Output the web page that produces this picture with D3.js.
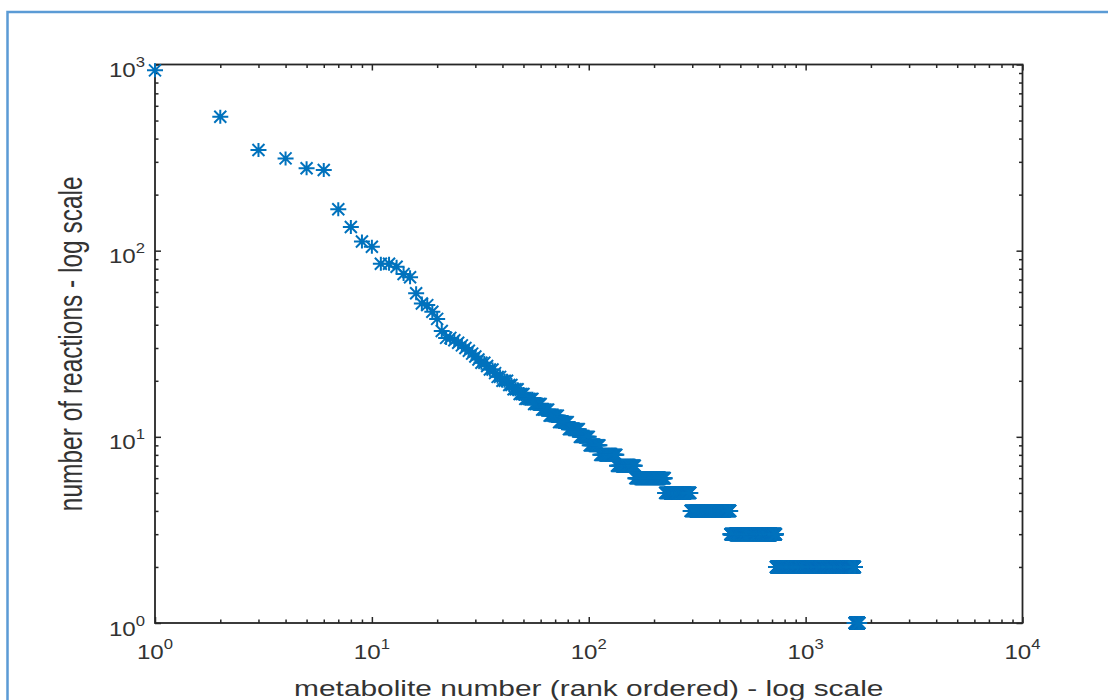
<!DOCTYPE html>
<html>
<head>
<meta charset="utf-8">
<script src="https://cdn.jsdelivr.net/npm/d3@7"></script>
<style>
	body { margin: 0; background: #fff; }
	svg { display: block; font-family: 'Liberation Sans', Arial, sans-serif; }
</style>
</head>
<body>
<svg width="1116" height="700"></svg>
<script>

// reaction counts for the first 23 metabolites, one per rank
const headValues = [ 930, 524, 347, 313, 277, 271, 167, 134, 112, 105, 85, 85, 82, 75, 72, 59, 52, 51, 47, 43, 37, 34, 34 ]

// the rest comes in runs of equal counts: value, first rank, last rank
const runValues = [ 33, 32, 31, 30, 29, 28, 27, 26, 25, 24, 23, 22, 21, 20, 19, 18, 17, 16, 15, 14, 13, 12, 11, 10, 9, 8, 7, 6, 5, 4, 3, 2, 1 ]
const runFirst = [ 24, 25, 26, 27, 28, 29, 30, 31, 32, 34, 35, 37, 38, 40, 43, 45, 48, 51, 56, 61, 66, 73, 81, 91, 101, 113, 135, 164, 225, 295, 450, 730, 1685 ]
const runLast = [ 24, 25, 26, 27, 28, 29, 30, 31, 33, 34, 36, 37, 39, 42, 44, 47, 50, 55, 60, 65, 72, 80, 90, 100, 112, 134, 163, 224, 294, 449, 729, 1684, 1765 ]

const xTicks = [ 1, 10, 100, 1000, 10000 ]
const yTicks = [ 1, 10, 100, 1000 ]

const xLabel = 'metabolite number (rank ordered) - log scale'
const yLabel = 'number of reactions - log scale'

const svg = d3.select( 'svg' ),
	plotL = 155, plotR = 1022.5, plotT = 64.5, plotB = 623,
	ink = '#262626',
	blue = '#0072bd'

// one point per metabolite
const points = headValues.map( ( v, i ) => ( { rank: i + 1, value: v } ) )
runValues.forEach( ( v, i ) => {
	for ( let r = runFirst[ i ]; r <= runLast[ i ]; r++ ) points.push( { rank: r, value: v } )
})

const x = d3.scaleLog().domain( [ 1, 1e4 ] ).range( [ plotL, plotR ] ),
	y = d3.scaleLog().domain( [ 1, 1e3 ] ).range( [ plotB, plotT ] )

// frame around the figure
svg.append( 'path' )
	.attr( 'd', 'M1108,12H7.5V700' )
	.attr( 'fill', 'none' )
	.attr( 'stroke', '#5b9bd5' )
	.attr( 'stroke-width', 2.5 )

// ticks point inwards on all four sides, minor ones shorter
const minorX = x.ticks().filter( d => !xTicks.includes( d ) ),
	minorY = y.ticks().filter( d => !yTicks.includes( d ) )

function ticks( axis, values, size, tx, ty ) {
	const g = svg.append( 'g' )
		.attr( 'transform', `translate(${tx},${ty})` )
		.call( axis.tickValues( values ).tickSize( -size ).tickFormat( '' ) )
	g.select( '.domain' ).remove()
	g.selectAll( 'line' ).attr( 'stroke', ink ).attr( 'stroke-width', 1.5 )
}

ticks( d3.axisBottom( x ), xTicks, 6, 0, plotB )
ticks( d3.axisBottom( x ), minorX, 3.5, 0, plotB )
ticks( d3.axisTop( x ), xTicks, 6, 0, plotT )
ticks( d3.axisTop( x ), minorX, 3.5, 0, plotT )
ticks( d3.axisLeft( y ), yTicks, 6, plotL, 0 )
ticks( d3.axisLeft( y ), minorY, 3.5, plotL, 0 )
ticks( d3.axisRight( y ), yTicks, 6, plotR, 0 )
ticks( d3.axisRight( y ), minorY, 3.5, plotR, 0 )

svg.append( 'rect' )
	.attr( 'x', plotL )
	.attr( 'y', plotT )
	.attr( 'width', plotR - plotL )
	.attr( 'height', plotB - plotT )
	.attr( 'fill', 'none' )
	.attr( 'stroke', ink )
	.attr( 'stroke-width', 1.8 )

// tick labels as 10 with a raised exponent
function power( sel ) {
	sel.append( 'tspan' ).text( '10' )
	sel.append( 'tspan' )
		.attr( 'dy', -10 )
		.attr( 'font-size', 14.5 )
		.text( d => Math.round( Math.log10( d ) ) )
}

svg.append( 'g' )
	.selectAll( 'text' )
	.data( xTicks )
	.join( 'text' )
	.attr( 'transform', d => `translate(${x( d )},659) scale(1.15,1)` )
	.attr( 'text-anchor', 'middle' )
	.attr( 'font-size', 21 )
	.attr( 'fill', '#333' )
	.call( power )

svg.append( 'g' )
	.selectAll( 'text' )
	.data( yTicks )
	.join( 'text' )
	.attr( 'transform', d => `translate(145,${y( d ) + 12.5}) scale(1.15,1)` )
	.attr( 'text-anchor', 'end' )
	.attr( 'font-size', 21 )
	.attr( 'fill', '#333' )
	.call( power )

// axis titles
svg.append( 'text' )
	.attr( 'transform', `translate(${( plotL + plotR ) / 2},696) scale(1.39,1)` )
	.attr( 'text-anchor', 'middle' )
	.attr( 'font-size', 21.5 )
	.attr( 'fill', '#333' )
	.text( xLabel )

svg.append( 'text' )
	.attr( 'transform', `translate(82,${( plotT + plotB ) / 2}) scale(1.33,1) rotate(-90)` )
	.attr( 'text-anchor', 'middle' )
	.attr( 'font-size', 24.5 )
	.attr( 'fill', '#333' )
	.text( yLabel )

// asterisk markers
svg.append( 'g' )
	.attr( 'fill', 'none' )
	.attr( 'stroke', blue )
	.attr( 'stroke-width', 2 )
	.selectAll( 'path' )
	.data( points )
	.join( 'path' )
	.attr( 'transform', d => `translate(${x( d.rank )},${y( d.value )})` )
	.attr( 'd', 'M-8,0H8M0,-7V7M-6,-6L6,6M-6,6L6,-6' )

</script>
</body>
</html>
